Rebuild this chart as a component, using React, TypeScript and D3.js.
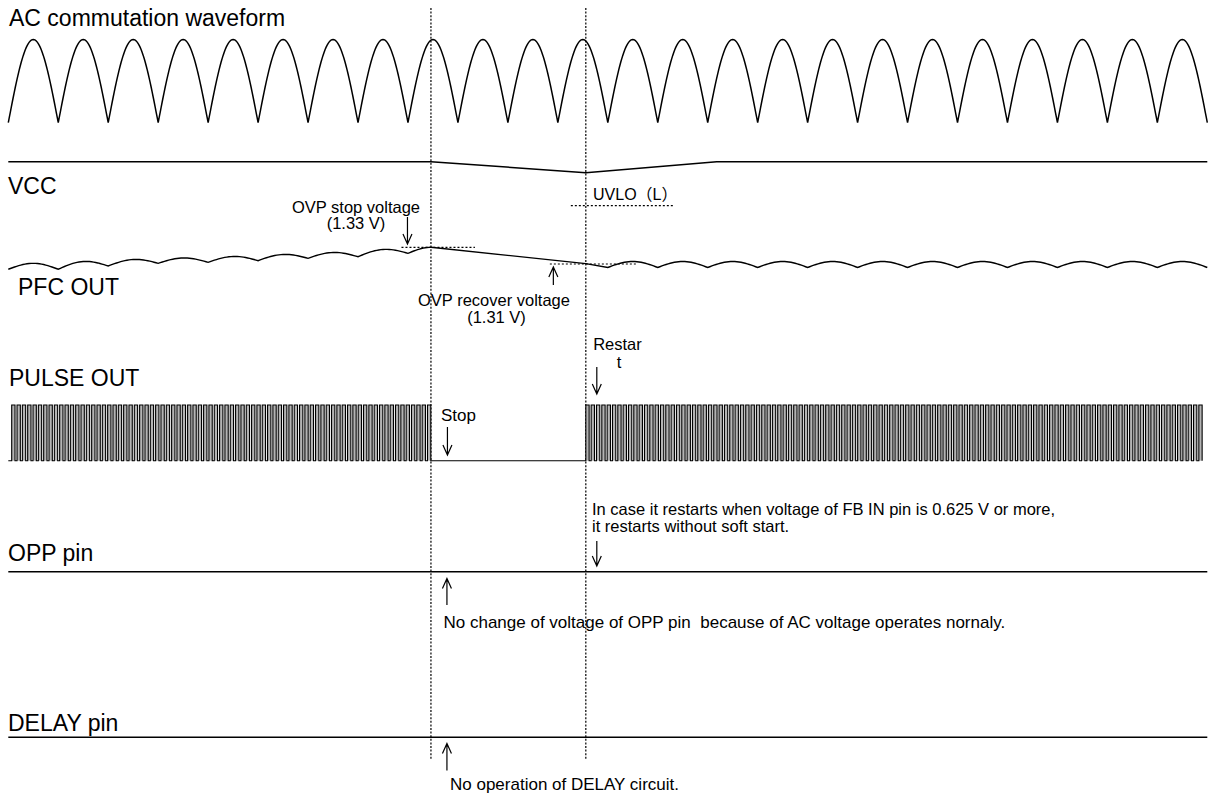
import React from "react";
import * as d3 from "d3";

// ---------- data (time unit = one AC half-cycle) ----------
const T_END = 24;
const acHalfCycles = 24;
const eventTimes = [8.46, 11.56]; // OVP stop, restart
const tVccRecovered = 14.18;

// VCC (relative: 1 = normal, 0 = UVLO(L))
const vccTimes = [0, 8.46, 11.56, tVccRecovered, 24];
const vccLevels = [1, 1, 0.75, 1, 1];
const uvloLevel = 0;

// PFC OUT (V)
const pfcStopV = 1.33;
const pfcRecoverV = 1.31;
const pfcCuspsBefore = [1.3037, 1.3037, 1.3076, 1.3108, 1.312, 1.314, 1.3168, 1.3187, 1.3228];
const pfcPeaksBefore = [1.3108, 1.313, 1.3154, 1.3172, 1.319, 1.3214, 1.3238, 1.3274];
const pfcAtRestart = 1.3105;
const pfcCuspAfter = 1.3058;
const pfcPeakAfter = 1.313;
const pfcAfterStart = 12;

// PULSE OUT
const pulsePeriod = 0.1067;
const pulseDuty = 0.62;
const pulseStartT = 0.068;

// ---------- layout ----------
const W = 1209;
const H = 797;
const FONT = '"Liberation Sans", Arial, "Noto Sans CJK JP", sans-serif';

const x = d3.scaleLinear().domain([0, T_END]).range([8.3, 1207.3]);
const yAC = d3.scaleLinear().domain([0, 1]).range([122.7, 39.5]);
const yVCC = d3.scaleLinear().domain([0, 1]).range([205.7, 161.7]);
const yPFC = d3.scaleLinear().domain([1.31, 1.33]).range([264, 247.3]);
const yPulse = d3.scaleLinear().domain([0, 1]).range([460.7, 405]);
const yOPP = 571.7;
const yDELAY = 737.3;

const line = d3
  .line<[number, number]>()
  .x((d) => d[0])
  .y((d) => d[1]);

function acPath() {
  const n = acHalfCycles * 50;
  const pts: [number, number][] = d3.range(0, n + 1).map((i) => {
    const t = i / 50;
    return [x(t), yAC(Math.abs(Math.sin(Math.PI * t)))];
  });
  return line(pts) || "";
}

function vccPath() {
  const pts: [number, number][] = vccTimes.map((t, i) => [x(t), yVCC(vccLevels[i])]);
  return line(pts) || "";
}

function hump(pts: [number, number][], t0: number, c0: number, c1: number, p: number) {
  const N = 24;
  for (let s = 0; s <= N; s++) {
    const f = s / N;
    const v = c0 + (c1 - c0) * f + (p - (c0 + c1) / 2) * Math.sin(Math.PI * f);
    pts.push([x(t0 + f), yPFC(v)]);
  }
}

function pfcPath() {
  const pts: [number, number][] = [];
  for (let k = 0; k < pfcPeaksBefore.length; k++) {
    hump(pts, k, pfcCuspsBefore[k], pfcCuspsBefore[k + 1], pfcPeaksBefore[k]);
  }
  const k0 = pfcPeaksBefore.length;
  const c8 = pfcCuspsBefore[k0];
  const tStop = eventTimes[0];
  const N = 12;
  for (let s = 0; s <= N; s++) {
    const f = s / N;
    pts.push([x(k0 + (tStop - k0) * f), yPFC(c8 + (pfcStopV - c8) * Math.sin((Math.PI / 2) * f))]);
  }
  pts.push([x(eventTimes[1]), yPFC(pfcAtRestart)]);
  for (let k = pfcAfterStart; k < T_END; k++) {
    hump(pts, k, pfcCuspAfter, pfcCuspAfter, pfcPeakAfter);
  }
  return line(pts) || "";
}

function pulses() {
  const list: [number, number][] = [];
  let t = pulseStartT;
  while (t + pulsePeriod * pulseDuty <= eventTimes[0] + 0.001) {
    list.push([t, t + pulsePeriod * pulseDuty]);
    t += pulsePeriod;
  }
  t = eventTimes[1];
  while (t + pulsePeriod * pulseDuty <= T_END + 0.001) {
    list.push([t, t + pulsePeriod * pulseDuty]);
    t += pulsePeriod;
  }
  return list;
}

function pulsePath(list: [number, number][]) {
  const lo = yPulse(0);
  const hi = yPulse(1);
  let d = `M${x(0)},${lo}`;
  for (const [a, b] of list) {
    d += `L${x(a)},${lo}L${x(a)},${hi}L${x(b)},${hi}L${x(b)},${lo}`;
  }
  return d;
}

function Arrow({ xp, tail, tip }: { xp: number; tail: number; tip: number }) {
  const dir = tip > tail ? 1 : -1;
  const d = `M${xp},${tail}L${xp},${tip}M${xp - 4.5},${tip - dir * 10}L${xp},${tip}L${xp + 4.5},${tip - dir * 10}`;
  return <path d={d} fill="none" stroke="#000" strokeWidth={1.2} />;
}

export default function App() {
  const pl = pulses();
  const big = { fontFamily: FONT, fontSize: 23, fill: "#000" } as const;
  const small = { fontFamily: FONT, fontSize: 17, fill: "#000" } as const;
  const two = { fontFamily: FONT, fontSize: 16.5, fill: "#000" } as const;
  return (
    <svg
      width={W}
      height={H}
      viewBox={`0 0 ${W} ${H}`}
      style={{ position: "absolute", left: 0, top: 0, background: "#fff" }}
    >
      {/* vertical event lines */}
      {eventTimes.map((t, i) => (
        <line key={i} x1={x(t)} x2={x(t)} y1={8} y2={760} stroke="#000" strokeWidth={1.2} strokeDasharray="2 1.6" />
      ))}

      {/* AC */}
      <text x={9} y={26} {...big}>AC commutation waveform</text>
      <path d={acPath()} fill="none" stroke="#000" strokeWidth={1.5} />

      {/* VCC */}
      <text x={8} y={194} {...big}>VCC</text>
      <path d={vccPath()} fill="none" stroke="#000" strokeWidth={1.5} />
      <line x1={x(11.26)} x2={x(13.34)} y1={yVCC(uvloLevel)} y2={yVCC(uvloLevel)} stroke="#000" strokeWidth={1.2} strokeDasharray="2 2" />
      <text x={593} y={200} {...small} fontSize={16}>UVLO（L）</text>

      {/* PFC OUT */}
      <text x={18} y={295} {...big}>PFC OUT</text>
      <path d={pfcPath()} fill="none" stroke="#000" strokeWidth={1.4} />
      <line x1={x(7.87)} x2={x(9.34)} y1={yPFC(pfcStopV)} y2={yPFC(pfcStopV)} stroke="#000" strokeWidth={1.2} strokeDasharray="2 2" />
      <line x1={x(10.84)} x2={x(12.58)} y1={yPFC(pfcRecoverV)} y2={yPFC(pfcRecoverV)} stroke="#000" strokeWidth={1.2} strokeDasharray="2 2" />
      <text x={356} y={213} textAnchor="middle" {...two}>OVP stop voltage</text>
      <text x={356} y={229} textAnchor="middle" {...two}>(1.33 V)</text>
      <Arrow xp={x(7.99)} tail={217} tip={244} />
      <text x={494} y={306} textAnchor="middle" {...two}>OVP recover voltage</text>
      <text x={496.5} y={323} textAnchor="middle" {...two}>(1.31 V)</text>
      <Arrow xp={x(10.91)} tail={285} tip={267} />

      {/* PULSE OUT */}
      <text x={9} y={386} {...big}>PULSE OUT</text>
      {pl.map(([a, b], i) => (
        <rect key={i} x={x(a)} y={yPulse(1)} width={x(b) - x(a)} height={yPulse(0) - yPulse(1)} fill="#b4b4b4" />
      ))}
      <path d={pulsePath(pl)} fill="none" stroke="#000" strokeWidth={1.1} />
      <text x={617.5} y={350} textAnchor="middle" {...two}>Restar</text>
      <text x={619} y={367.5} textAnchor="middle" {...two}>t</text>
      <Arrow xp={x(11.78)} tail={367} tip={394} />
      <text x={441} y={420.5} {...small}>Stop</text>
      <Arrow xp={x(8.79)} tail={427} tip={455} />

      {/* OPP pin */}
      <text x={592} y={514.5} {...two}>In case it restarts when voltage of FB IN pin is 0.625 V or more,</text>
      <text x={592} y={531.5} {...two}>it restarts without soft start.</text>
      <Arrow xp={x(11.78)} tail={541} tip={566} />
      <text x={8} y={561} {...big}>OPP pin</text>
      <line x1={x(0)} x2={x(T_END)} y1={yOPP} y2={yOPP} stroke="#000" strokeWidth={1.5} />
      <Arrow xp={x(8.78)} tail={605} tip={578.5} />
      <text x={443.5} y={628} {...small} style={{ whiteSpace: "pre" }}>No change of voltage of OPP pin  because of AC voltage operates nornaly.</text>

      {/* DELAY pin */}
      <text x={8} y={731} {...big}>DELAY pin</text>
      <line x1={x(0)} x2={x(T_END)} y1={yDELAY} y2={yDELAY} stroke="#000" strokeWidth={1.5} />
      <Arrow xp={x(8.78)} tail={770.5} tip={743.5} />
      <text x={450} y={790} {...small}>No operation of DELAY circuit.</text>
    </svg>
  );
}
